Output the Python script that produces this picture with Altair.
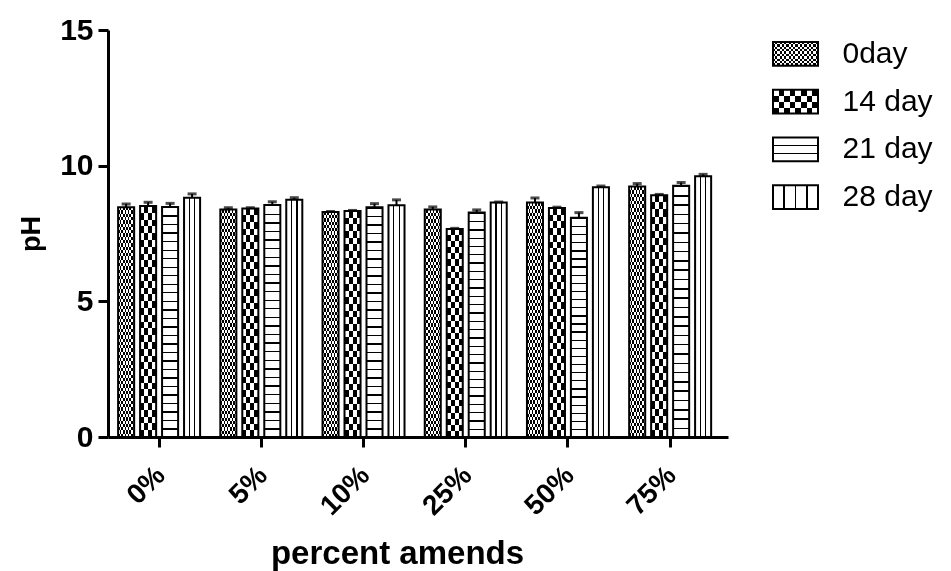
import altair as alt
import pandas as pd

# ---- data ----
categories = ["0%", "5%", "10%", "25%", "50%", "75%"]
series = ["0day", "14 day", "21 day", "28 day"]
ph_0day = [8.47, 8.38, 8.29, 8.38, 8.64, 9.23]
ph_14day = [8.51, 8.42, 8.33, 7.67, 8.44, 8.91]
ph_21day = [8.48, 8.55, 8.47, 8.27, 8.08, 9.26]
ph_28day = [8.82, 8.74, 8.54, 8.64, 9.20, 9.61]
err_0day = [0.12, 0.07, 0.02, 0.10, 0.17, 0.11]
err_14day = [0.14, 0.03, 0.02, 0.02, 0.03, 0.03]
err_21day = [0.13, 0.12, 0.13, 0.10, 0.19, 0.12]
err_28day = [0.14, 0.08, 0.20, 0.02, 0.05, 0.07]

vals = [ph_0day, ph_14day, ph_21day, ph_28day]
errs = [err_0day, err_14day, err_21day, err_28day]
rows = []
for s, v, e in zip(series, vals, errs):
    for c, vv, ee in zip(categories, v, e):
        rows.append({"pct": c, "series": s, "value": vv, "hi": vv + ee})
df = pd.DataFrame(rows)
leg_df = pd.DataFrame({"series": series})

FONT = "Liberation Sans"


def stripes(n, black_frac, vertical_axis=True, black_first=True):
    """Hard-edged stripe gradient: n periods along y (vertical_axis) or x."""
    c1, c2 = ("black", "white") if black_first else ("white", "black")
    stops = []
    for i in range(n):
        a = i / n
        b = (i + black_frac) / n
        z = (i + 1) / n
        stops += [
            {"offset": a, "color": c1},
            {"offset": b, "color": c1},
            {"offset": b, "color": c2},
            {"offset": z, "color": c2},
        ]
    g = {"gradient": "linear", "x1": 0, "y1": 0, "stops": stops}
    if vertical_axis:
        g.update({"x2": 0, "y2": 1})
    else:
        g.update({"x2": 1, "y2": 0})
    return g


def lines_at(positions, width, vertical_axis=True):
    stops = [{"offset": 0, "color": "white"}]
    for p in positions:
        stops += [
            {"offset": p - width / 2, "color": "white"},
            {"offset": p - width / 2, "color": "black"},
            {"offset": p + width / 2, "color": "black"},
            {"offset": p + width / 2, "color": "white"},
        ]
    stops.append({"offset": 1, "color": "white"})
    g = {"gradient": "linear", "x1": 0, "y1": 0, "stops": stops}
    if vertical_axis:
        g.update({"x2": 0, "y2": 1})
    else:
        g.update({"x2": 1, "y2": 0})
    return g


# bar patterns
bar_base_fill = {
    "0day": stripes(35, 0.5, True),
    "14 day": stripes(17, 0.5, True),
    "21 day": stripes(27, 0.16, True, True),
    "28 day": lines_at([1 / 3, 2 / 3], 0.08, False),
}
bar_xor_fill = {
    "0day": stripes(5, 0.5, False, False),
    "14 day": stripes(2, 0.5, False, False),
}
# legend patterns
leg_base_fill = {
    "0day": stripes(5, 0.5, True),
    "14 day": stripes(2, 0.5, True),
    "21 day": lines_at([1 / 3, 2 / 3], 0.07, True),
    "28 day": lines_at([0.25, 0.5, 0.75], 0.04, False),
}
leg_xor_fill = {
    "0day": stripes(10, 0.5, False, False),
    "14 day": stripes(4, 0.5, False, False),
}

x_enc = alt.X(
    "pct:N",
    sort=categories,
    scale=alt.Scale(domain=categories, paddingInner=0, paddingOuter=0.033, align=0),
    axis=alt.Axis(
        title="percent amends",
        titleFont=FONT,
        titleFontSize=33,
        titleFontWeight="bold",
        titleX=289,
        titleY=126,
        titleBaseline="alphabetic",
        labelAngle=-45,
        labelFont=FONT,
        labelFontSize=28,
        labelFontWeight="bold",
        labelColor="black",
        labelPadding=14,
        labelOffset=-8,
        domainColor="black",
        domainWidth=3,
        tickColor="black",
        tickWidth=3,
        tickSize=10,
    ),
)
xo_enc = alt.XOffset(
    "series:N",
    sort=series,
    scale=alt.Scale(domain=series, paddingInner=0.27, paddingOuter=0.46),
)
y_enc = alt.Y(
    "value:Q",
    scale=alt.Scale(domain=[0, 15], nice=False),
    axis=alt.Axis(
        values=[0, 5, 10, 15],
        title="pH",
        titleFont=FONT,
        titleFontSize=27,
        titleFontWeight="bold",
        titlePadding=14,
        labelFont=FONT,
        labelFontSize=30,
        labelFontWeight="bold",
        labelColor="black",
        labelPadding=5,
        domainColor="black",
        domainWidth=3,
        tickColor="black",
        tickWidth=3,
        tickSize=10,
        grid=False,
    ),
)

base = alt.Chart(df).encode(x=x_enc, xOffset=xo_enc, y=y_enc)

layers = []
for s in series:
    layers.append(
        base.transform_filter(alt.datum.series == s).mark_bar(fill=bar_base_fill[s])
    )
for s in ["0day", "14 day"]:
    layers.append(
        base.transform_filter(alt.datum.series == s).mark_bar(
            fill=bar_xor_fill[s], blend="difference"
        )
    )
layers.append(base.mark_bar(fill="transparent", stroke="black", strokeWidth=2))
layers.append(
    base.mark_rule(color="black", strokeWidth=2).encode(y2="hi:Q")
)
layers.append(
    base.mark_tick(color="black", thickness=3, size=9).encode(y=alt.Y("hi:Q"))
)

main = alt.layer(*layers).properties(width=620, height=407)

# legend panel
leg_y = alt.Y(
    "series:N",
    sort=series,
    scale=alt.Scale(domain=series, paddingInner=0.5, paddingOuter=0.25),
    axis=alt.Axis(
        orient="right",
        title=None,
        domain=False,
        ticks=False,
        labelFont=FONT,
        labelFontSize=30,
        labelColor="black",
        labelPadding=24,
    ),
)
lbase = alt.Chart(leg_df).encode(y=leg_y)
llayers = []
for s in series:
    llayers.append(
        lbase.transform_filter(alt.datum.series == s).mark_rect(fill=leg_base_fill[s])
    )
for s in ["0day", "14 day"]:
    llayers.append(
        lbase.transform_filter(alt.datum.series == s).mark_rect(
            fill=leg_xor_fill[s], blend="difference"
        )
    )
llayers.append(lbase.mark_rect(fill="transparent", stroke="black", strokeWidth=2))
legend = alt.layer(*llayers).properties(width=45, height=191)

chart = (
    alt.hconcat(main, legend, spacing=44)
    .properties(padding={"left": 9, "top": 7, "right": 2, "bottom": 2})
    .configure(background="white")
    .configure_view(stroke="transparent", strokeWidth=0)
)

chart.save("out.html", embed_options={"renderer": "svg", "actions": False})
